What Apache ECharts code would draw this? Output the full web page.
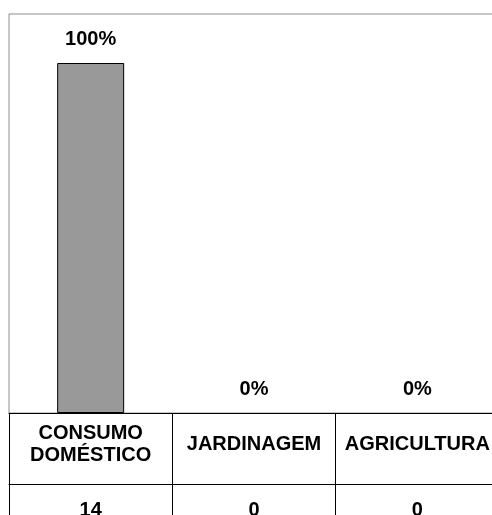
<!DOCTYPE html>
<html>
<head>
<meta charset="utf-8">
<script src="https://cdn.jsdelivr.net/npm/echarts@6/dist/echarts.min.js"></script>
<style>
  html, body { margin: 0; padding: 0; background: #ffffff; }
  #chart { width: 492px; height: 515px; }
</style>
</head>
<body>
<div id="chart"></div>
<script>
// Water use categories, share of answers (%) and absolute counts
const categories = ['CONSUMO\nDOMÉSTICO', 'JARDINAGEM', 'AGRICULTURA'];
const percentages = [100, 0, 0];
const counts = [14, 0, 0];

const FONT = "'Liberation Sans', Arial, Helvetica, sans-serif";

const chart = echarts.init(document.getElementById('chart'), null, { renderer: 'canvas' });

// Empty bars get no outline so that only the label remains
const barData = percentages.map(v => ({
  value: v,
  itemStyle: { borderWidth: v > 0 ? 1 : 0 }
}));

chart.setOption({
  animation: false,
  backgroundColor: '#ffffff',
  grid: {
    left: 9,
    top: 14,
    width: 490,
    bottom: 102,
    outerBoundsMode: 'none',
    containLabel: false,
    show: true,
    borderColor: '#8c8c8c',
    borderWidth: 1,
    backgroundColor: 'transparent'
  },
  xAxis: [
    {
      type: 'category',
      data: categories,
      position: 'bottom',
      boundaryGap: true,
      axisLine: { show: true, lineStyle: { color: '#000', width: 1 } },
      axisTick: { show: true, interval: 0, length: 102, lineStyle: { color: '#000', width: 1 } },
      axisLabel: {
        interval: 0,
        hideOverlap: false,
        margin: 31,
        verticalAlign: 'middle',
        color: '#000',
        fontFamily: FONT,
        fontWeight: 'bold',
        fontSize: 20,
        lineHeight: 22
      },
      splitLine: { show: false }
    },
    {
      type: 'category',
      data: categories,
      position: 'bottom',
      offset: 71,
      boundaryGap: true,
      axisLine: { show: true, lineStyle: { color: '#000', width: 1 } },
      axisTick: { show: false },
      axisLabel: {
        interval: 0,
        margin: 16,
        color: '#000',
        fontFamily: FONT,
        fontWeight: 'bold',
        fontSize: 20,
        formatter: (v, i) => String(counts[i])
      },
      splitLine: { show: false }
    }
  ],
  yAxis: {
    type: 'value',
    min: 0,
    max: 114,
    show: false
  },
  series: [
    {
      type: 'bar',
      xAxisIndex: 0,
      data: barData,
      barWidth: 67,
      itemStyle: { color: '#999999', borderColor: '#000' },
      label: {
        show: true,
        position: 'top',
        distance: 14,
        color: '#000',
        fontFamily: FONT,
        fontWeight: 'bold',
        fontSize: 20,
        formatter: p => p.value + '%'
      }
    }
  ]
});
</script>
</body>
</html>
